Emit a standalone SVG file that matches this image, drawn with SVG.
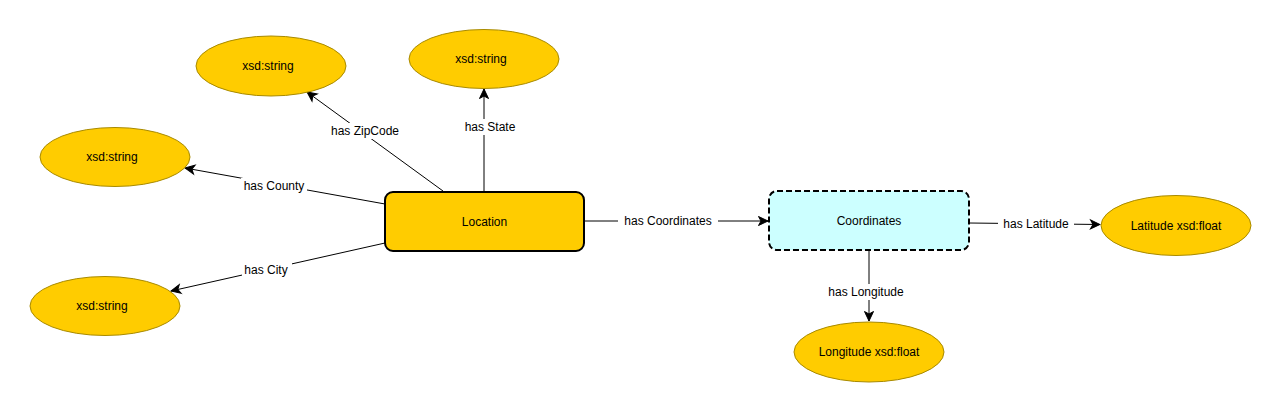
<svg xmlns="http://www.w3.org/2000/svg" width="1281" height="412" viewBox="0 0 1281 412">
<style>
text{font-family:"Liberation Sans",Arial,Helvetica,sans-serif;font-size:12px;fill:#000;text-anchor:middle;dominant-baseline:central}
.ell{fill:#ffcc00;stroke:#a88a00;stroke-width:1}
.edge{stroke:#000;stroke-width:1;fill:none}
.lbg{fill:#fff}
</style>
<defs>
<marker id="arr" viewBox="0 0 12 12" refX="11" refY="6" markerWidth="12" markerHeight="12" markerUnits="userSpaceOnUse" orient="auto">
<path d="M1.5,1.5 L11,6 L1.5,10.5 L4,6 Z" fill="#000" stroke="#000" stroke-width="1" stroke-linejoin="miter"/>
</marker>
</defs>
<rect width="1281" height="412" fill="#fff"/>
<g id="connectors">
<line class="edge" x1="443" y1="191" x2="307" y2="92" marker-end="url(#arr)"/>
<line class="edge" x1="484" y1="191" x2="484" y2="89" marker-end="url(#arr)"/>
<line class="edge" x1="385" y1="204" x2="185" y2="168" marker-end="url(#arr)"/>
<line class="edge" x1="385" y1="243" x2="171" y2="291" marker-end="url(#arr)"/>
<line class="edge" x1="584" y1="221" x2="768" y2="221" marker-end="url(#arr)"/>
<line class="edge" x1="969" y1="223" x2="1100" y2="224.5" marker-end="url(#arr)"/>
<line class="edge" x1="869" y1="251" x2="869" y2="321" marker-end="url(#arr)"/>
<rect class="lbg" x="329" y="123" width="72" height="16"/><text x="365" y="131">has ZipCode</text>
<rect class="lbg" x="462" y="119" width="56" height="16"/><text x="490" y="127">has State</text>
<rect class="lbg" x="241" y="178" width="66" height="16"/><text x="274" y="186">has County</text>
<rect class="lbg" x="242" y="262" width="50" height="16"/><text x="266" y="270">has City</text>
<rect class="lbg" x="618" y="213" width="100" height="16"/><text x="668" y="221">has Coordinates</text>
<rect class="lbg" x="998" y="216" width="76" height="16"/><text x="1036" y="224">has Latitude</text>
<rect class="lbg" x="824" y="284" width="84" height="16"/><text x="866" y="292">has Longitude</text>
</g>
<g id="location">
<rect x="385" y="192" width="199" height="59" rx="8" fill="#ffcc00" stroke="#000" stroke-width="2"/>
<text x="484.5" y="221.5">Location</text>
</g>
<g id="coordinates">
<rect x="769" y="191" width="200" height="59" rx="8" fill="#ccffff" stroke="#000" stroke-width="2" stroke-dasharray="6 3"/>
<text x="869" y="220.5">Coordinates</text>
</g>
<g id="zipcode"><ellipse class="ell" cx="271" cy="66" rx="75" ry="30"/><text x="268" y="66">xsd:string</text></g>
<g id="state"><ellipse class="ell" cx="484" cy="59" rx="75" ry="29.5"/><text x="481" y="59">xsd:string</text></g>
<g id="county"><ellipse class="ell" cx="115" cy="157" rx="75" ry="29.5"/><text x="112" y="157">xsd:string</text></g>
<g id="city"><ellipse class="ell" cx="105" cy="306" rx="75" ry="29.5"/><text x="102" y="306">xsd:string</text></g>
<g id="latitude"><ellipse class="ell" cx="1176" cy="225.5" rx="75" ry="30"/><text x="1176" y="225.5">Latitude xsd:float</text></g>
<g id="longitude"><ellipse class="ell" cx="869" cy="352" rx="75" ry="30"/><text x="869" y="352">Longitude xsd:float</text></g>
</svg>
